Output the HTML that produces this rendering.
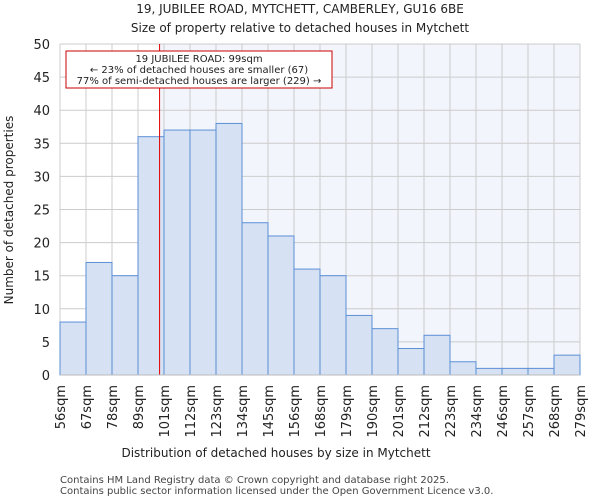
<!DOCTYPE html>
<html><head><meta charset="utf-8"><style>
body{margin:0;background:#fff;font-family:"DejaVu Sans","Liberation Sans",sans-serif;}
</style></head><body>
<svg width="600" height="500" xmlns="http://www.w3.org/2000/svg" font-family="DejaVu Sans, Liberation Sans, sans-serif">
<text x="300" y="13" text-anchor="middle" font-size="12" fill="#222">19, JUBILEE ROAD, MYTCHETT, CAMBERLEY, GU16 6BE</text>
<text x="300" y="32" text-anchor="middle" font-size="12" fill="#222">Size of property relative to detached houses in Mytchett</text>
<g id="plot"></g>
<text x="276" y="457" text-anchor="middle" font-size="12" fill="#222">Distribution of detached houses by size in Mytchett</text>
<text transform="translate(13,210) rotate(-90)" text-anchor="middle" font-size="12" fill="#222">Number of detached properties</text>
<text x="60" y="483" font-size="10" fill="#444">Contains HM Land Registry data © Crown copyright and database right 2025.</text>
<text x="60" y="494" font-size="10" fill="#444">Contains public sector information licensed under the Open Government Licence v3.0.</text>
</svg>
<script>
const categories=["56sqm","67sqm","78sqm","89sqm","101sqm","112sqm","123sqm","134sqm","145sqm","156sqm","168sqm","179sqm","190sqm","201sqm","212sqm","223sqm","234sqm","246sqm","257sqm","268sqm","279sqm"];
const counts=[8,17,15,36,37,37,38,23,21,16,15,9,7,4,6,2,1,1,1,3];
const yTicks=[0,5,10,15,20,25,30,35,40,45,50];
const propertyIndex=3.83;
const L=60,R=580,T=44,B=375,yMax=50;
const bw=(R-L)/counts.length;
const xs=i=>L+i*bw, ys=v=>B-(v/yMax)*(B-T);
const g=document.getElementById('plot');const NS='http://www.w3.org/2000/svg';
function mk(t,a,p){const e=document.createElementNS(NS,t);for(const k in a)e.setAttribute(k,a[k]);(p||g).appendChild(e);return e;}
const px=xs(propertyIndex);
let e=mk('rect',{x:L,y:T,width:R-L,height:B-T,fill:'#fff'});


e=mk('rect',{x:px,y:T,width:R-px,height:B-T,fill:'#f2f5fc'});


yTicks.forEach(v=>{const y=ys(v);
 let l=mk('line',{x1:L,x2:R,y1:y,y2:y,stroke:'#ccc','stroke-width':1});
 
 
 let t=mk('text',{x:L-10,y:y+5,'text-anchor':'end','font-size':13,fill:'#222'});t.textContent=v;
 
 });
categories.forEach((c,i)=>{const x=xs(i);
 let l=mk('line',{x1:x,x2:x,y1:T,y2:B,stroke:'#ccc','stroke-width':1});
 
 
 let t=mk('text',{transform:`translate(${x+5},385) rotate(-90)`,'text-anchor':'end','font-size':13,fill:'#222'});t.textContent=c;
 
 });
counts.forEach((v,i)=>{let r=mk('rect',{x:xs(i),y:ys(v),width:bw,height:B-ys(v),fill:'#d6e2f3',stroke:'#5b8fd6','stroke-width':1});
 
 });
e=mk('line',{x1:px,x2:px,y1:T,y2:B,stroke:'#e00000','stroke-width':1});


e=mk('rect',{x:66,y:51,width:266,height:37,fill:'#fff',stroke:'#cc0000','stroke-width':1});


["19 JUBILEE ROAD: 99sqm","← 23% of detached houses are smaller (67)","77% of semi-detached houses are larger (229) →"].forEach((s,i)=>{
 let t=mk('text',{x:199,y:62+i*11,'text-anchor':'middle','font-size':10,fill:'#222'});t.textContent=s;
 
 });
e=mk('line',{x1:L,x2:R,y1:B,y2:B,stroke:'#bbb','stroke-width':1});


</script>
</body></html>
